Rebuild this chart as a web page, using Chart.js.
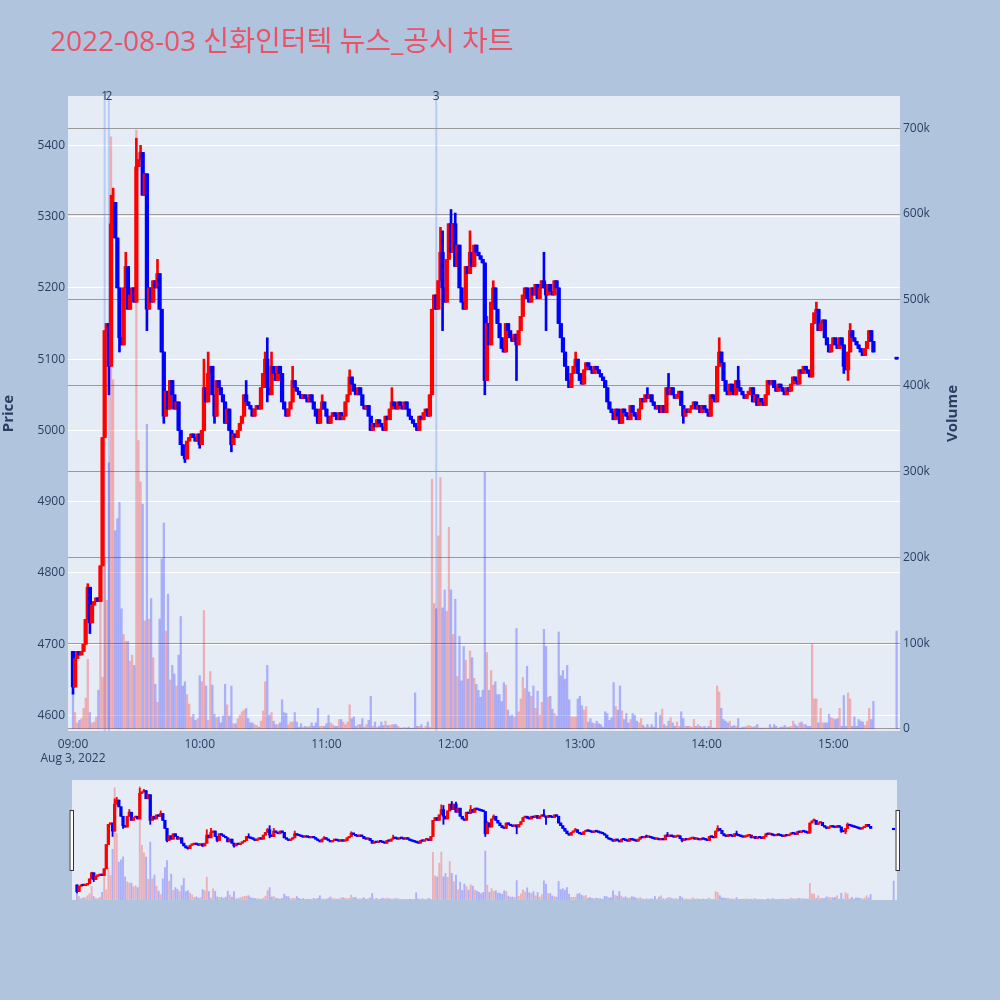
<!DOCTYPE html>
<html><head><meta charset="utf-8">
<script src="https://cdn.jsdelivr.net/npm/chart.js@4.4.1/dist/chart.umd.min.js"></script>
<style>
html,body{margin:0;padding:0;background:#b0c4de;}
#wrap{position:relative;width:1000px;height:1000px;overflow:hidden;background:#b0c4de;}
#title{position:absolute;left:50px;top:22px;font-family:"Open Sans","Noto Sans CJK KR",sans-serif;font-size:28px;line-height:36px;color:rgb(235,82,102);white-space:nowrap;}
canvas{position:absolute;left:0;top:0;}
</style></head><body>
<div id="wrap">
<canvas id="main" width="1000" height="1000"></canvas>
<canvas id="slider" width="1000" height="1000"></canvas>
<div id="title">2022-08-03 신화인터텍 뉴스_공시 차트</div>
</div>
<script>
// ---------- data ----------
const firstOpen = 4690;
// minute closes, 09:00 .. 15:19
const closes = [
4640,4680,4690,4685,4690,4700,4735,4780,4730,4755,4760,4765,4760,4810,4990,5140,5150,5090,5290,5320,
5270,5200,5130,5120,5200,5230,5170,5190,5200,5180,5370,5380,5390,5330,5360,5170,5200,5180,5210,5200,
5220,5170,5110,5020,5055,5030,5070,5050,5030,5040,5000,4980,4965,4960,4985,4990,4995,4990,4985,4995,
4980,5000,5060,5040,5080,5090,5050,5020,5070,5060,5050,5040,5010,5030,5000,4980,4995,4990,5000,5010,
5020,5050,5040,5035,5030,5020,5030,5035,5030,5060,5080,5100,5060,5050,5090,5080,5070,5090,5080,5040,
5030,5020,5030,5040,5070,5060,5055,5050,5045,5050,5045,5040,5050,5040,5030,5020,5010,5030,5040,5030,
5020,5010,5020,5025,5020,5015,5025,5015,5020,5040,5050,5075,5065,5055,5050,5060,5050,5035,5030,5035,
5020,5000,5010,5005,5015,5010,5005,5000,5020,5015,5030,5040,5035,5030,5040,5035,5030,5040,5030,5020,
5015,5010,5005,5000,5020,5015,5025,5030,5020,5050,5170,5190,5170,5210,5250,5200,5180,5240,5290,5250,
5290,5230,5260,5200,5180,5170,5230,5220,5250,5230,5260,5250,5245,5240,5235,5070,5150,5120,5180,5200,
5170,5150,5130,5115,5110,5150,5140,5130,5125,5135,5120,5140,5160,5190,5200,5185,5180,5200,5190,5205,
5185,5200,5210,5200,5190,5205,5195,5190,5210,5200,5150,5130,5110,5090,5070,5060,5080,5090,5100,5080,
5070,5065,5085,5095,5090,5085,5080,5090,5085,5080,5075,5070,5060,5040,5030,5025,5015,5030,5020,5010,
5030,5025,5020,5015,5035,5025,5020,5015,5030,5045,5040,5050,5045,5050,5040,5035,5030,5035,5025,5035,
5025,5060,5050,5060,5050,5045,5050,5055,5035,5020,5030,5025,5030,5035,5040,5030,5035,5025,5035,5030,
5025,5020,5050,5045,5040,5090,5110,5095,5070,5055,5050,5065,5055,5050,5070,5060,5055,5050,5045,5050,
5055,5060,5040,5050,5035,5045,5040,5035,5050,5070,5065,5070,5060,5055,5065,5060,5055,5050,5060,5055,
5065,5075,5070,5065,5085,5080,5090,5085,5080,5075,5150,5165,5170,5140,5150,5155,5130,5120,5110,5120,
5130,5120,5115,5130,5120,5090,5085,5110,5140,5130,5125,5120,5115,5110,5105,5115,5125,5140,5125,5110
];
// minute volumes in thousands of shares
const volumes = [
43,19,7,10,12,24,36,81,19,7,8,14,45,169,60,200,150,310,690,407,
231,245,264,140,110,102,102,79,86,74,698,336,288,262,126,355,128,152,83,52,
31,128,198,240,114,157,57,74,64,50,86,131,50,55,40,29,14,17,10,12,
62,55,138,50,10,67,51,17,13,14,7,15,52,28,15,50,6,6,12,16,
20,22,24,12,7,7,5,4,2,9,21,55,74,16,19,9,5,5,7,34,
19,18,5,8,8,19,8,2,6,2,3,2,3,7,3,7,24,3,3,3,
6,16,7,5,3,3,11,11,8,5,8,28,12,14,3,5,5,12,2,5,
10,38,3,8,2,3,8,4,9,4,4,5,5,5,3,1,1,2,1,2,
0.5,1,42,3,3,5,1,3,8,2,291,146,140,225,293,141,162,137,235,162,
110,151,61,108,56,96,80,58,91,83,59,52,45,37,45,299,89,45,68,51,
55,40,40,32,54,51,22,15,16,14,117,20,35,60,47,73,43,38,50,24,
44,16,31,116,96,37,38,23,18,15,113,62,68,58,74,34,14,14,14,35,
38,27,22,26,8,12,7,6,9,6,5,2,20,18,10,13,54,26,22,50,
21,11,18,7,11,18,16,9,7,12,4,2,5,2,5,2,19,1,16,23,
5,3,9,13,7,3,8,3,20,12,3,3,3,2,11,3,5,3,2,3,
1,3,10,1,1,50,43,24,11,9,7,9,3,4,3,12,1,2,2,3,
4,3,2,3,5,1,1,1,1,1,5,2,5,3,1,2,2,4,2,2,
3,9,5,3,7,8,5,5,3,3,99,35,35,7,24,7,7,7,17,13,
12,11,12,24,3,39,3,42,35,3,14,3,11,9,8,4,9,24,11,32
];
// notable wick extremes [minute, price]
const highWicks = [[7,4785],[18,5330],[19,5340],[25,5250],[30,5410],[32,5400],[40,5240],[62,5100],[64,5110],
  [82,5070],[91,5110],[92,5130],[94,5110],[104,5090],[118,5050],[131,5085],[151,5060],[174,5285],[175,5280],
  [179,5310],[181,5305],[188,5280],[196,5160],[199,5210],[223,5250],[238,5110],[272,5060],[282,5080],
  [306,5130],[315,5090],[352,5180],[368,5150]];
const lowWicks = [[0,4630],[8,4715],[17,5050],[22,5110],[35,5140],[43,5010],[53,4955],[60,4975],[67,5010],
  [75,4970],[92,5040],[175,5140],[195,5050],[210,5070],[224,5140],[289,5010],[365,5080],[367,5070]];
// closing auction 15:30
const auctionMinute = 390, auctionPrice = 5100, auctionVolume = 114;
// news / disclosure markers
const newsTimes = ['09:15','09:17','11:52'];
const newsLabels = ['1','2','3'];
// axis ticks
const timeTickMinutes = [0,60,120,180,240,300,360];
const timeTickLabels = ['09:00','10:00','11:00','12:00','13:00','14:00','15:00'];
const dateLabel = 'Aug 3, 2022';
const priceTicks = [4600,4700,4800,4900,5000,5100,5200,5300,5400];
const volumeTicks = [0,100,200,300,400,500,600,700];
const volumeTickLabels = ['0','100k','200k','300k','400k','500k','600k','700k'];

// ---------- build ----------
const UP = '#ff0000', DOWN = '#0000ff';
const UPV = 'rgba(255,0,0,0.26)', DOWNV = 'rgba(0,0,255,0.26)';
const candles = closes.map((c, i) => {
  const o = i === 0 ? firstOpen : closes[i - 1];
  return {m: i, o: o, c: c, h: Math.max(o, c), l: Math.min(o, c), v: volumes[i], up: c >= o};
});
highWicks.forEach(([m, p]) => { candles[m].h = Math.max(candles[m].h, p); });
lowWicks.forEach(([m, p]) => { candles[m].l = Math.min(candles[m].l, p); });
candles.push({m: auctionMinute, o: auctionPrice, c: auctionPrice, h: auctionPrice, l: auctionPrice,
  v: auctionVolume, up: auctionPrice >= closes[closes.length - 1]});

const toMin = t => { const [h, mm] = t.split(':').map(Number); return (h - 9) * 60 + mm; };
const newsMinutes = newsTimes.map(toMin);

const X_MIN = -2.37, X_MAX = 391.6;
const P_MIN = 4578.3, P_MAX = 5469.2;
const V_MIN = -2.45, V_MAX = 737.6;

Chart.defaults.font.family = '"Open Sans","Noto Sans CJK KR",sans-serif';
Chart.defaults.color = '#2a3f5f';

function makeDatasets(bodyW, wickW, volW, minLen) {
  return [
    {type: 'bar', label: 'body', yAxisID: 'y', order: 1, grouped: false,
     data: candles.map(k => ({x: k.m, y: [k.o, k.c]})),
     backgroundColor: candles.map(k => k.up ? UP : DOWN),
     barThickness: bodyW, minBarLength: minLen, borderWidth: 0},
    {type: 'bar', label: 'wick', yAxisID: 'y', order: 2, grouped: false,
     data: candles.map(k => ({x: k.m, y: [k.l, k.h]})),
     backgroundColor: candles.map(k => k.up ? UP : DOWN),
     barThickness: wickW, borderWidth: 0},
    {type: 'bar', label: 'volume', yAxisID: 'y2', order: 3, grouped: false,
     data: candles.map(k => ({x: k.m, y: k.v})),
     backgroundColor: candles.map(k => k.up ? UPV : DOWNV),
     barThickness: volW, borderWidth: 0}
  ];
}

const bgPlugin = {
  id: 'plotBg',
  beforeDraw(chart) {
    const a = chart.chartArea, ctx = chart.ctx;
    ctx.save(); ctx.fillStyle = '#e5ecf6';
    ctx.fillRect(a.left, a.top, a.right - a.left, a.bottom - a.top);
    ctx.restore();
  }
};

const newsPlugin = {
  id: 'news',
  beforeDatasetsDraw(chart) {
    const a = chart.chartArea, ctx = chart.ctx, xs = chart.scales.x;
    ctx.save();
    ctx.strokeStyle = 'rgba(110,150,240,0.38)'; ctx.lineWidth = 2;
    newsMinutes.forEach(m => {
      const px = xs.getPixelForValue(m);
      ctx.beginPath(); ctx.moveTo(px, a.top); ctx.lineTo(px, a.bottom); ctx.stroke();
    });
    ctx.restore();
  },
  afterDraw(chart) {
    const a = chart.chartArea, ctx = chart.ctx, xs = chart.scales.x;
    ctx.save();
    ctx.fillStyle = '#2a3f5f'; ctx.font = '12px "Open Sans","Noto Sans CJK KR",sans-serif';
    ctx.textAlign = 'center'; ctx.textBaseline = 'middle';
    newsMinutes.forEach((m, i) => ctx.fillText(newsLabels[i], xs.getPixelForValue(m), a.top + 1));
    // right axis title, reading bottom-to-top
    ctx.translate(953, (a.top + a.bottom) / 2);
    ctx.rotate(-Math.PI / 2);
    ctx.font = 'bold 15px "Open Sans","Noto Sans CJK KR",sans-serif';
    ctx.fillText('Volume', 0, 0);
    ctx.restore();
  }
};

new Chart(document.getElementById('main'), {
  data: {datasets: makeDatasets(3.6, 2, 1.6, 2)},
  options: {
    responsive: false, animation: false, devicePixelRatio: 1,
    layout: {padding: {top: 96, bottom: 229, left: 0, right: 38}},
    plugins: {legend: {display: false}, tooltip: {enabled: false}, title: {display: false}},
    scales: {
      x: {type: 'linear', min: X_MIN, max: X_MAX, offset: false,
          grid: {display: false, offset: false}, border: {display: false},
          afterBuildTicks: s => { s.ticks = timeTickMinutes.map(v => ({value: v})); },
          afterFit: s => { s.height = 40; },
          ticks: {autoSkip: false, maxRotation: 0, minRotation: 0, padding: -2,
                  font: {size: 12, lineHeight: 1.2},
                  callback: (v) => { const i = timeTickMinutes.indexOf(v);
                    return i === 0 ? [timeTickLabels[i], dateLabel] : timeTickLabels[i]; }}},
      y: {type: 'linear', position: 'left', min: P_MIN, max: P_MAX,
          grid: {color: '#ffffff', lineWidth: 1, drawTicks: false}, border: {display: false},
          afterBuildTicks: s => { s.ticks = priceTicks.map(v => ({value: v})); },
          afterFit: s => { s.width = 68; },
          ticks: {padding: 3, font: {size: 12}, callback: (v) => String(v)},
          title: {display: true, text: 'Price', font: {size: 15, weight: 'bold'}, padding: 0}},
      y2: {type: 'linear', position: 'right', min: V_MIN, max: V_MAX,
           grid: {color: '#9a9a9a', lineWidth: 1, drawTicks: false}, border: {display: false},
           afterBuildTicks: s => { s.ticks = volumeTicks.map(v => ({value: v})); },
           afterFit: s => { s.width = 62; },
           ticks: {padding: 3, font: {size: 12},
                   callback: (v) => volumeTickLabels[volumeTicks.indexOf(v)]}}
    }
  },
  plugins: [bgPlugin, newsPlugin]
});

const handlePlugin = {
  id: 'handles',
  afterDraw(chart) {
    const a = chart.chartArea, ctx = chart.ctx;
    const hy = a.top + 30, hh = 61;
    ctx.save();
    ctx.fillStyle = '#ffffff'; ctx.strokeStyle = '#333333'; ctx.lineWidth = 1;
    [a.left - 2.5, a.right - 1.5].forEach(hx => {
      ctx.fillRect(hx, hy, 4, hh); ctx.strokeRect(hx + 0.5, hy + 0.5, 3.5, hh - 1);
    });
    ctx.restore();
  }
};

new Chart(document.getElementById('slider'), {
  data: {datasets: makeDatasets(2.6, 1.2, 1.2, 1.5)},
  options: {
    responsive: false, animation: false, devicePixelRatio: 1,
    layout: {padding: {top: 780, bottom: 100, left: 72, right: 103}},
    plugins: {legend: {display: false}, tooltip: {enabled: false}},
    scales: {
      x: {type: 'linear', display: false, min: X_MIN, max: X_MAX, offset: false},
      y: {type: 'linear', display: false, min: P_MIN, max: P_MAX},
      y2: {type: 'linear', display: false, min: V_MIN, max: V_MAX}
    }
  },
  plugins: [bgPlugin, handlePlugin]
});
</script>
</body></html>
